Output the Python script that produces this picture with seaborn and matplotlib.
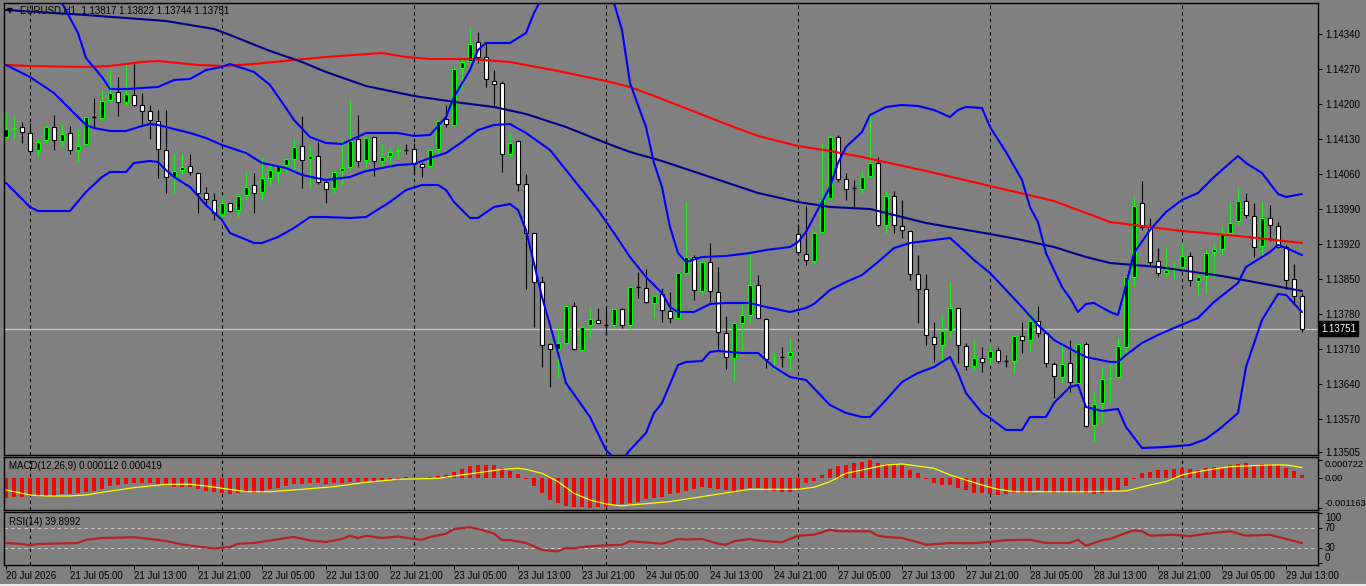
import matplotlib
matplotlib.use("Agg")
import matplotlib.pyplot as plt
from matplotlib.patches import Rectangle
from matplotlib.lines import Line2D
import seaborn as sns

sns.set_theme(style="white")
plt.rcParams['font.family'] = ['Liberation Sans', 'DejaVu Sans']

# ---------------- data ----------------
title_main = "EURUSD,H1  1.13817 1.13822 1.13744 1.13751"
title_macd = "MACD(12,26,9) 0.000112 0.000419"
title_rsi = "RSI(14) 39.8992"
last_price = 1.13751

open_ = [1.14134,1.14150,1.14154,1.14142,1.14108,1.14128,1.14154,1.14126,1.14142,1.14108,
         1.14120,1.14174,1.14172,1.14208,1.14224,1.14204,1.14218,1.14198,1.14186,1.14166,
         1.14108,1.14054,1.14068,1.14076,1.14062,1.14022,1.14008,1.13980,1.14002,1.13988,
         1.14018,1.14038,1.14024,1.14052,1.14064,1.14078,1.14090,1.14116,1.14090,1.14096,
         1.14044,1.14032,1.14066,1.14074,1.14130,1.14088,1.14134,1.14086,1.14096,1.14106,
         1.14108,1.14110,1.14080,1.14076,1.14110,1.14170,1.14158,1.14272,1.14286,1.14324,
         1.14294,1.14246,1.14242,1.14100,1.14126,1.14040,1.13942,1.13844,1.13720,1.13710,
         1.13722,1.13796,1.13708,1.13758,1.13768,1.13758,1.13758,1.13790,1.13758,1.13834,
         1.13832,1.13802,1.13820,1.13786,1.13772,1.13862,1.13894,1.13826,1.13884,1.13824,
         1.13742,1.13692,1.13762,1.13778,1.13838,1.13770,1.13692,1.13694,1.13696,1.13940,
         1.13900,1.13886,1.13944,1.14012,1.14134,1.14050,1.14032,1.14030,1.14056,1.14082,
         1.13958,1.14016,1.13956,1.13946,1.13860,1.13830,1.13734,1.13718,1.13746,1.13792,
         1.13716,1.13676,1.13692,1.13692,1.13708,1.13686,1.13686,1.13736,1.13728,1.13766,
         1.13742,1.13680,1.13654,1.13682,1.13642,1.13720,1.13558,1.13602,1.13652,1.13654,
         1.13714,1.13854,1.14002,1.13954,1.13886,1.13862,1.13868,1.13874,1.13896,1.13846,
         1.13856,1.13904,1.13910,1.13942,1.13966,1.14006,1.13976,1.13916,1.13972,1.13956,
         1.13914,1.13850,1.13817]
high = [1.14184,1.14176,1.14164,1.14162,1.14130,1.14160,1.14178,1.14160,1.14156,1.14150,
        1.14174,1.14212,1.14230,1.14270,1.14254,1.14280,1.14280,1.14222,1.14198,1.14188,
        1.14188,1.14102,1.14102,1.14100,1.14062,1.14034,1.14022,1.14012,1.14002,1.14018,
        1.14064,1.14062,1.14094,1.14082,1.14078,1.14092,1.14130,1.14176,1.14118,1.14124,
        1.14048,1.14068,1.14128,1.14208,1.14178,1.14134,1.14134,1.14120,1.14112,1.14116,
        1.14120,1.14122,1.14084,1.14110,1.14170,1.14198,1.14274,1.14292,1.14352,1.14344,
        1.14322,1.14268,1.14246,1.14142,1.14128,1.14060,1.13942,1.13856,1.13722,1.13754,
        1.13798,1.13804,1.13758,1.13792,1.13792,1.13794,1.13792,1.13792,1.13836,1.13864,
        1.13870,1.13818,1.13832,1.13824,1.13862,1.14004,1.13898,1.13884,1.13922,1.13874,
        1.13776,1.13762,1.13802,1.13900,1.13858,1.13772,1.13704,1.13714,1.13732,1.13960,
        1.13996,1.13944,1.14122,1.14136,1.14138,1.14062,1.14048,1.14066,1.14180,1.14094,
        1.14026,1.14026,1.14008,1.13946,1.13898,1.13860,1.13764,1.13776,1.13844,1.13792,
        1.13722,1.13728,1.13714,1.13718,1.13714,1.13698,1.13738,1.13764,1.13782,1.13796,
        1.13742,1.13684,1.13722,1.13728,1.13722,1.13724,1.13624,1.13672,1.13680,1.13734,
        1.13854,1.14016,1.14046,1.13972,1.13912,1.13914,1.13884,1.13922,1.13904,1.13864,
        1.13910,1.13920,1.13954,1.14002,1.14032,1.14022,1.14002,1.14006,1.13998,1.13964,
        1.13918,1.13880,1.13822]
low = [1.14128,1.14130,1.14122,1.14100,1.14094,1.14122,1.14108,1.14116,1.14100,1.14084,
       1.14118,1.14152,1.14168,1.14202,1.14176,1.14198,1.14196,1.14160,1.14130,1.14052,
       1.14022,1.14022,1.14058,1.14058,1.13982,1.13998,1.13968,1.13974,1.13984,1.13974,
       1.14008,1.13982,1.14008,1.14038,1.14042,1.14062,1.14064,1.14032,1.14034,1.14040,
       1.14002,1.14022,1.14038,1.14068,1.14074,1.14072,1.14056,1.14074,1.14074,1.14090,
       1.14100,1.14060,1.14054,1.14074,1.14100,1.14154,1.14156,1.14230,1.14282,1.14282,
       1.14234,1.14194,1.14064,1.14094,1.14026,1.13830,1.13754,1.13674,1.13634,1.13654,
       1.13722,1.13708,1.13706,1.13732,1.13762,1.13738,1.13756,1.13752,1.13748,1.13812,
       1.13802,1.13772,1.13764,1.13762,1.13770,1.13858,1.13808,1.13818,1.13804,1.13710,
       1.13670,1.13646,1.13702,1.13762,1.13772,1.13672,1.13668,1.13674,1.13668,1.13902,
       1.13878,1.13880,1.13942,1.14010,1.14044,1.14008,1.13994,1.14022,1.14052,1.13956,
       1.13942,1.13942,1.13932,1.13848,1.13762,1.13718,1.13684,1.13684,1.13732,1.13682,
       1.13668,1.13668,1.13664,1.13678,1.13682,1.13674,1.13662,1.13702,1.13706,1.13734,
       1.13674,1.13612,1.13642,1.13624,1.13642,1.13554,1.13526,1.13562,1.13602,1.13652,
       1.13694,1.13834,1.13948,1.13876,1.13856,1.13854,1.13850,1.13870,1.13836,1.13818,
       1.13822,1.13854,1.13898,1.13938,1.13958,1.13972,1.13894,1.13898,1.13926,1.13912,
       1.13830,1.13798,1.13744]
close_ = [1.14150,1.14152,1.14144,1.14106,1.14124,1.14154,1.14128,1.14140,1.14108,1.14116,
          1.14174,1.14174,1.14206,1.14222,1.14204,1.14220,1.14198,1.14186,1.14168,1.14110,
          1.14054,1.14066,1.14074,1.14064,1.14022,1.14010,1.13982,1.14002,1.13986,1.14016,
          1.14034,1.14022,1.14052,1.14068,1.14076,1.14090,1.14114,1.14088,1.14096,1.14044,
          1.14030,1.14064,1.14072,1.14126,1.14086,1.14132,1.14086,1.14094,1.14104,1.14107,
          1.14108,1.14080,1.14074,1.14108,1.14166,1.14160,1.14270,1.14284,1.14320,1.14294,
          1.14250,1.14240,1.14100,1.14122,1.14040,1.13942,1.13844,1.13718,1.13710,1.13722,
          1.13796,1.13710,1.13754,1.13770,1.13762,1.13758,1.13790,1.13758,1.13834,1.13834,
          1.13804,1.13816,1.13788,1.13772,1.13862,1.13894,1.13828,1.13884,1.13826,1.13744,
          1.13694,1.13762,1.13778,1.13838,1.13772,1.13690,1.13693,1.13694,1.13704,1.13904,
          1.13888,1.13942,1.14008,1.14134,1.14050,1.14030,1.14032,1.14054,1.14082,1.13958,
          1.14016,1.13958,1.13948,1.13860,1.13830,1.13738,1.13720,1.13746,1.13792,1.13718,
          1.13676,1.13692,1.13684,1.13706,1.13686,1.13686,1.13736,1.13728,1.13766,1.13742,
          1.13682,1.13656,1.13680,1.13644,1.13720,1.13556,1.13600,1.13650,1.13653,1.13716,
          1.13854,1.13996,1.13954,1.13884,1.13862,1.13868,1.13869,1.13896,1.13848,1.13854,
          1.13902,1.13910,1.13942,1.13962,1.14006,1.13978,1.13914,1.13972,1.13958,1.13914,
          1.13848,1.13816,1.13751]

# indicator lines sampled at bar indices
bb_up_idx = [0,4,7,9,10,12,13,15,19,21,23,25,27,28,31,33,35,36,38,40,42,45,49,51,53,54,55,56,58,59,
             60,63,65,66,67,71,75,76,77,78,80,81,82,83,84,85,87,90,93,95,98,99,100,101,103,104,105,107,108,110,
             112,114,116,118,119,120,122,123,125,127,128,129,130,132,133,134,135,136,138,139,140,141,143,145,147,149,151,154,155,157,
             159,160,162]
bb_up = [1.14528,1.14468,1.14402,1.14342,1.14292,1.14254,1.14230,1.14230,1.14234,1.14248,
         1.14250,1.14268,1.14274,1.14280,1.14264,1.14238,1.14192,1.14168,1.14134,1.14122,
         1.14120,1.14142,1.14142,1.14136,1.14138,1.14156,1.14174,1.14214,1.14268,1.14308,
         1.14322,1.14322,1.14342,1.14382,1.14412,1.14508,1.14412,1.14402,1.14348,1.14242,
         1.14154,1.14082,1.14034,1.13954,1.13902,1.13884,1.13894,1.13896,1.13902,1.13908,
         1.13914,1.13924,1.13944,1.13974,1.14034,1.14082,1.14114,1.14144,1.14178,1.14194,
         1.14198,1.14196,1.14188,1.14174,1.14188,1.14194,1.14192,1.14154,1.14104,1.14048,
         1.13994,1.13964,1.13902,1.13834,1.13812,1.13784,1.13800,1.13802,1.13784,1.13778,
         1.13838,1.13902,1.13948,1.13984,1.14008,1.14022,1.14054,1.14096,1.14082,1.14062,
         1.14020,1.14014,1.14020]
bb_mid_idx = [0,3,6,10,11,13,15,17,18,19,20,23,25,27,30,32,35,37,40,43,45,49,51,53,55,57,59,61,63,65,
              68,70,72,74,76,78,80,82,83,84,86,88,90,93,95,98,100,101,103,105,107,109,111,113,115,118,119,121,123,125,
              127,129,131,134,135,138,139,140,142,144,146,149,151,154,155,158,159,160,162]
bb_mid = [1.14278,1.14254,1.14222,1.14158,1.14152,1.14146,1.14146,1.14156,1.14160,1.14158,
          1.14154,1.14142,1.14132,1.14118,1.14102,1.14082,1.14072,1.14058,1.14048,1.14054,
          1.14066,1.14078,1.14080,1.14092,1.14102,1.14124,1.14148,1.14158,1.14160,1.14142,
          1.14108,1.14068,1.14028,1.13988,1.13942,1.13894,1.13854,1.13822,1.13794,1.13784,
          1.13784,1.13800,1.13802,1.13802,1.13794,1.13784,1.13792,1.13800,1.13828,1.13844,
          1.13858,1.13884,1.13912,1.13922,1.13926,1.13932,1.13918,1.13888,1.13862,1.13828,
          1.13794,1.13758,1.13728,1.13702,1.13694,1.13684,1.13684,1.13698,1.13722,1.13738,
          1.13752,1.13772,1.13804,1.13842,1.13874,1.13904,1.13918,1.13912,1.13898]
bb_low_idx = [0,3,4,8,10,12,13,15,16,18,19,20,21,23,25,27,28,31,32,34,36,38,40,43,45,48,50,52,54,55,
              56,58,59,61,63,64,65,67,69,70,73,75,76,77,78,80,81,82,84,85,87,88,89,92,94,96,98,100,103,105,
              107,108,110,112,114,116,118,119,120,122,123,125,127,128,130,131,133,134,135,137,139,140,142,145,148,150,152,154,155,157,
              159,160,162]
bb_low = [1.14042,1.13994,1.13986,1.13986,1.14024,1.14054,1.14064,1.14064,1.14082,1.14086,
          1.14084,1.14068,1.14054,1.14034,1.13998,1.13968,1.13942,1.13922,1.13922,1.13934,
          1.13952,1.13974,1.13974,1.13972,1.13974,1.14004,1.14028,1.14038,1.14038,1.14028,
          1.14004,1.13972,1.13972,1.13994,1.14000,1.13988,1.13948,1.13814,1.13702,1.13642,
          1.13574,1.13508,1.13492,1.13488,1.13508,1.13542,1.13582,1.13602,1.13678,1.13684,
          1.13686,1.13704,1.13706,1.13702,1.13702,1.13674,1.13654,1.13648,1.13598,1.13582,
          1.13574,1.13574,1.13608,1.13644,1.13662,1.13674,1.13694,1.13662,1.13622,1.13582,
          1.13572,1.13548,1.13548,1.13574,1.13574,1.13602,1.13634,1.13638,1.13594,1.13586,
          1.13590,1.13554,1.13512,1.13514,1.13518,1.13530,1.13554,1.13582,1.13674,1.13768,
          1.13820,1.13818,1.13784]
ma_red_idx = [0,3,10,13,17,19,24,27,31,36,40,47,50,53,58,63,69,75,78,82,90,94,99,103,107,115,123,131,138,147,154,162]
ma_red = [1.14278,1.14276,1.14274,1.14276,1.14284,1.14286,1.14278,1.14276,1.14280,1.14288,
          1.14294,1.14302,1.14294,1.14290,1.14290,1.14284,1.14266,1.14246,1.14234,1.14210,
          1.14160,1.14136,1.14116,1.14106,1.14094,1.14066,1.14036,1.14006,1.13964,1.13946,
          1.13936,1.13922]
ma_navy_idx = [0,10,20,26,28,33,37,40,45,51,57,61,65,70,75,78,82,88,94,99,103,108,115,123,127,131,135,138,144,152,158,162]
ma_navy = [1.14388,1.14378,1.14366,1.14350,1.14338,1.14306,1.14284,1.14264,1.14236,1.14216,
           1.14202,1.14194,1.14180,1.14154,1.14122,1.14104,1.14086,1.14054,1.14022,1.14004,
           1.13994,1.13990,1.13962,1.13940,1.13928,1.13914,1.13894,1.13882,1.13874,1.13856,
           1.13838,1.13826]

macd_main = [-0.000754,-0.000715,-0.000715,-0.000689,-0.000676,-0.000676,-0.000650,-0.000624,-0.000624,-0.000585,
             -0.000546,-0.000481,-0.000429,-0.000299,-0.000260,-0.000234,-0.000195,-0.000195,-0.000195,-0.000234,
             -0.000260,-0.000325,-0.000325,-0.000325,-0.000429,-0.000481,-0.000520,-0.000585,-0.000611,-0.000559,
             -0.000520,-0.000559,-0.000520,-0.000429,-0.000364,-0.000299,-0.000234,-0.000234,-0.000195,-0.000195,
             -0.000221,-0.000195,-0.000169,-0.000156,-0.000130,-0.000104,-0.000091,-0.000065,-0.000039,-0.000026,
             0.000065,0.000013,0.000026,0.000039,0.000091,0.000130,0.000260,0.000351,0.000481,0.000520,
             0.000520,0.000520,0.000390,0.000286,0.000169,-0.000039,-0.000299,-0.000585,-0.000845,-0.000975,
             -0.001079,-0.001105,-0.001131,-0.001163,-0.001131,-0.001105,-0.001040,-0.001014,-0.000975,-0.000910,
             -0.000819,-0.000780,-0.000715,-0.000624,-0.000585,-0.000481,-0.000429,-0.000351,-0.000390,-0.000429,
             -0.000455,-0.000481,-0.000429,-0.000390,-0.000364,-0.000429,-0.000481,-0.000520,-0.000520,-0.000364,
             -0.000195,-0.000091,0.000130,0.000351,0.000481,0.000520,0.000585,0.000650,0.000722,0.000585,
             0.000559,0.000559,0.000520,0.000325,0.000221,-0.000026,-0.000195,-0.000260,-0.000260,-0.000390,
             -0.000455,-0.000559,-0.000585,-0.000611,-0.000650,-0.000624,-0.000585,-0.000559,-0.000520,-0.000455,
             -0.000520,-0.000559,-0.000546,-0.000546,-0.000520,-0.000585,-0.000611,-0.000585,-0.000546,-0.000455,
             -0.000286,-0.000013,0.000221,0.000260,0.000325,0.000325,0.000351,0.000390,0.000351,0.000325,
             0.000390,0.000429,0.000455,0.000520,0.000559,0.000585,0.000520,0.000546,0.000546,0.000520,
             0.000390,0.000286,0.000112]
macd_sig_idx = [0,3,5,8,10,12,16,20,23,25,27,30,33,37,41,45,49,54,56,60,62,64,65,67,69,71,73,75,77,78,
                83,87,91,93,99,101,103,105,108,110,112,113,116,118,120,122,124,126,131,135,140,143,145,147,149,151,153,158,160,162]
macd_sig = [-0.000455,-0.000650,-0.000689,-0.000689,-0.000650,-0.000546,-0.000364,-0.000234,-0.000234,-0.000299,
            -0.000390,-0.000520,-0.000520,-0.000429,-0.000325,-0.000156,-0.000039,0.0,0.000091,0.000260,
            0.000351,0.000390,0.000351,0.000195,-0.000130,-0.000585,-0.000845,-0.001001,-0.001079,-0.001040,
            -0.000910,-0.000715,-0.000520,-0.000429,-0.000429,-0.000351,-0.000130,0.000195,0.000390,0.000520,
            0.000559,0.000520,0.000390,0.000130,-0.000065,-0.000260,-0.000429,-0.000520,-0.000520,-0.000520,
            -0.000494,-0.000260,-0.000130,0.000130,0.000260,0.000364,0.000455,0.000520,0.000520,0.000419]

rsi_idx = [0,2,3,4,9,10,12,16,18,20,22,24,26,28,29,31,33,35,36,38,40,42,43,44,45,47,49,51,52,53,
           55,56,58,59,61,62,63,65,66,67,69,70,71,72,74,77,78,82,84,85,87,89,90,91,93,94,97,99,101,103,
           104,108,109,110,112,113,114,115,118,121,125,128,130,133,134,135,137,138,140,141,142,143,146,148,150,153,155,158,160,162]
rsi_val = [40,38,35.5,38,40,46.5,50,51.5,48,44,37,33,29,32,38.5,40,45,50,52,45,
           42,48,54.5,50,54.5,50,53,48,46.5,52,58.5,68,71.5,68,59,45.5,46,40,33.5,26,
           23.5,30,29,32,34.5,36.5,43.5,38.5,48,47,48,38.5,36.5,43.5,48,45,41.5,54.5,56.5,66.5,
           63.5,63.5,54.5,52,50,45.5,41.5,36.5,40,39.5,45.5,46.5,40,40,46.5,34.5,45.5,48,60,65.5,
           63.5,54.5,56.5,53.5,58.5,63.5,54.5,56.5,48,39.9]

day_start_bars = [3, 27, 51, 75, 99, 123, 147]
xtick_bars = list(range(0, 161, 8))
xtick_labels = ["20 Jul 2026", "21 Jul 05:00", "21 Jul 13:00", "21 Jul 21:00", "22 Jul 05:00",
                "22 Jul 13:00", "22 Jul 21:00", "23 Jul 05:00", "23 Jul 13:00", "23 Jul 21:00",
                "24 Jul 05:00", "24 Jul 13:00", "24 Jul 21:00", "27 Jul 05:00", "27 Jul 13:00",
                "27 Jul 21:00", "28 Jul 05:00", "28 Jul 13:00", "28 Jul 21:00", "29 Jul 05:00",
                "29 Jul 13:00"]
price_ticks = [1.14340, 1.14270, 1.14200, 1.14130, 1.14060, 1.13990, 1.13920, 1.13850,
               1.13780, 1.13710, 1.13640, 1.13570, 1.13505]
macd_ticks = [0.000722, 0.0, -0.001163]
macd_tick_labels = ["0.000722", "0.00", "-0.001163"]
rsi_ticks = [100, 70, 30, 0]

# ---------------- style ----------------
BG = '#808080'
FS = 7
W, H = 1366, 586

def box(x0, y0, x1, y1):
    return [x0 / W, 1 - y1 / H, (x1 - x0) / W, (y1 - y0) / H]

fig = plt.figure(figsize=(W / 100, H / 100), dpi=100, facecolor=BG)
ax = fig.add_axes(box(4, 3, 1318, 455))
axm = fig.add_axes(box(4, 457, 1318, 510), sharex=ax)
axr = fig.add_axes(box(4, 512, 1318, 565), sharex=ax)

for a in (ax, axm, axr):
    a.set_facecolor(BG)
    for s in a.spines.values():
        s.set_color('black')
        s.set_linewidth(1.0)
    a.yaxis.tick_right()
    a.tick_params(axis='y', which='both', direction='out', length=3, width=0.8,
                  color='black', labelcolor='black', labelsize=FS, pad=2,
                  left=False, right=True, labelleft=False, labelright=True)
    a.grid(False)
    for d in day_start_bars:
        a.axvline(d, color='black', lw=0.8, ls=(0, (3, 3)), zorder=1)

n = len(close_)
ax.set_xlim(-0.25, 164)

# candles
body_w = 0.56
for i in range(n):
    o, h, l, c = open_[i], high[i], low[i], close_[i]
    if c > o:
        ax.vlines(i, l, h, color='#00FF00', lw=0.8, zorder=2)
        ax.add_patch(Rectangle((i - body_w / 2, o), body_w, c - o, facecolor='black',
                               edgecolor='#00FF00', lw=0.8, zorder=2.5))
    elif c < o:
        ax.vlines(i, l, h, color='black', lw=0.8, zorder=2)
        ax.add_patch(Rectangle((i - body_w / 2, c), body_w, o - c, facecolor='white',
                               edgecolor='black', lw=0.8, zorder=2.5))
    else:
        ax.vlines(i, l, h, color='black', lw=0.8, zorder=2)
        ax.hlines(o, i - body_w / 2, i + body_w / 2, color='black', lw=1.0, zorder=2.5)

lw2 = 1.5
sns.lineplot(x=ma_red_idx, y=ma_red, ax=ax, color='#FF0000', lw=lw2, estimator=None, sort=False, zorder=3)
sns.lineplot(x=ma_navy_idx, y=ma_navy, ax=ax, color='#00008B', lw=lw2, estimator=None, sort=False, zorder=3)
for xi, yi in ((bb_up_idx, bb_up), (bb_mid_idx, bb_mid), (bb_low_idx, bb_low)):
    sns.lineplot(x=xi, y=yi, ax=ax, color='#0000FF', lw=lw2, estimator=None, sort=False, zorder=3)

ax.axhline(last_price, color='#C8C8C8', lw=0.9, zorder=1.5)
ax.set_ylim(1.13498, 1.14402)
ax.set_yticks(price_ticks)
ax.set_yticklabels([f"{p:.5f}" for p in price_ticks])
ax.text(1.0025, last_price, f"{last_price:.5f}", transform=ax.get_yaxis_transform(),
        ha='left', va='center', fontsize=FS, color='white',
        bbox=dict(facecolor='black', edgecolor='black', pad=1.5), zorder=5, clip_on=False)
ax.text(0.0025, 0.994, "\u25BC", transform=ax.transAxes, ha='left', va='top', fontsize=5.5,
        color='black', family='DejaVu Sans')
ax.text(0.0125, 0.995, title_main, transform=ax.transAxes, ha='left', va='top', fontsize=FS, color='black')

# MACD
axm.bar(range(n), macd_main, width=0.42, color='#FF0000', linewidth=0, zorder=2)
sns.lineplot(x=macd_sig_idx, y=macd_sig, ax=axm, color='#FFFF00', lw=0.9, estimator=None, sort=False, zorder=3)
axm.set_ylim(-0.001236, 0.000831)
axm.set_yticks(macd_ticks)
axm.set_yticklabels(macd_tick_labels)
axm.tick_params(axis='y', labelsize=6.7, pad=1.5)
axm.text(0.004, 0.83, title_macd, transform=axm.transAxes, ha='left', va='center', fontsize=FS, color='black')

# RSI
axr.axhline(70, color='#C8C8C8', lw=0.8, ls=(0, (3, 3)), zorder=1)
axr.axhline(30, color='#C8C8C8', lw=0.8, ls=(0, (3, 3)), zorder=1)
sns.lineplot(x=rsi_idx, y=rsi_val, ax=axr, color='#B22222', lw=1.6, estimator=None, sort=False, zorder=3)
axr.set_ylim(-4, 102)
axr.set_yticks(rsi_ticks)
axr.set_yticklabels([str(v) for v in rsi_ticks])
axr.text(0.004, 0.81, title_rsi, transform=axr.transAxes, ha='left', va='center', fontsize=FS, color='black')

for a in (ax, axm, axr):
    a.set_xlabel('')
    a.set_ylabel('')

axr.set_xticks(xtick_bars)
axr.set_xticklabels(xtick_labels, ha='left')
axr.tick_params(axis='x', direction='out', length=3, width=0.8, color='black',
                labelcolor='black', labelsize=FS, pad=1.5, bottom=True)
for a in (ax, axm):
    a.tick_params(axis='x', bottom=False, labelbottom=False)

for lab, va in zip(axm.get_yticklabels(), ['top', 'center', 'bottom']):
    lab.set_verticalalignment(va)
for lab, va in zip(axr.get_yticklabels(), ['top', 'center', 'center', 'bottom']):
    lab.set_verticalalignment(va)

# light frame line along the bottom edge of the window
fig.add_artist(Line2D([0, 1], [1.5 / H, 1.5 / H], transform=fig.transFigure, color='#E8E8E8', lw=1.5))

fig.savefig("out.png", dpi=100, facecolor=BG)
